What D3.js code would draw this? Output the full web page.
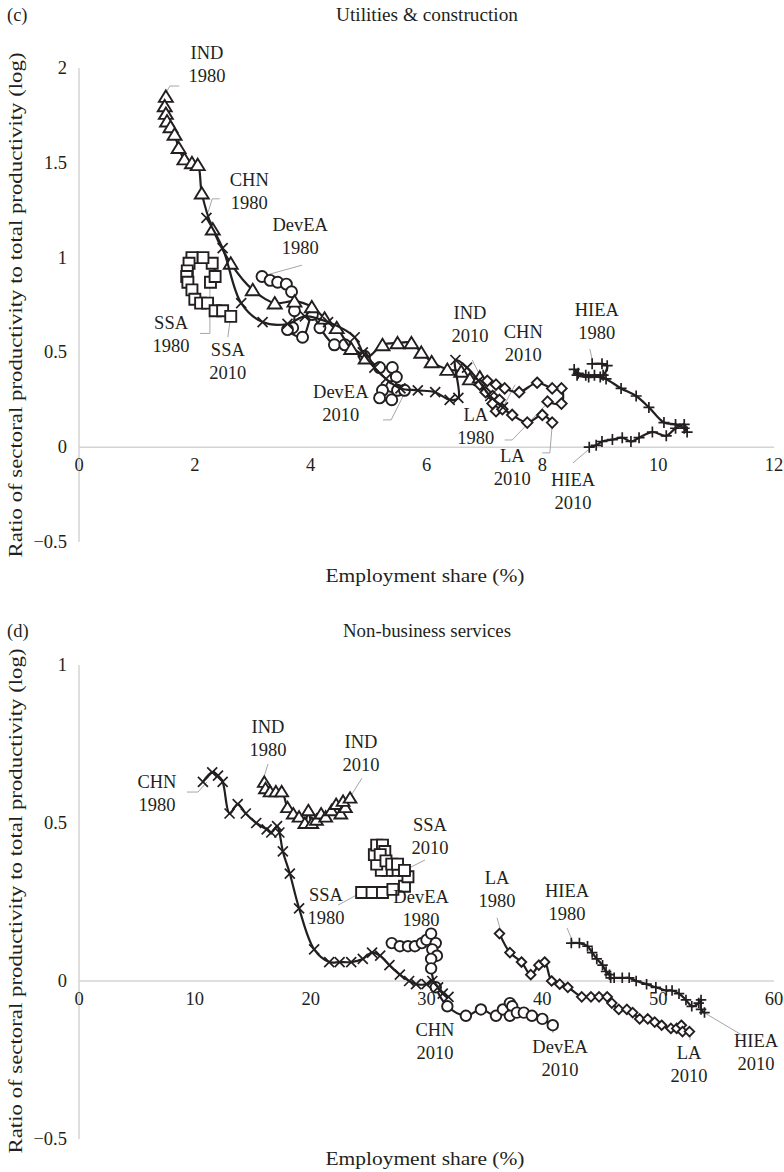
<!DOCTYPE html>
<html>
<head>
<meta charset="utf-8">
<script src="https://cdn.jsdelivr.net/npm/d3@7"></script>
<style>
  body { margin: 0; background: #fff; }
  svg text { font-family: "Liberation Serif", "DejaVu Serif", serif; fill: #231f20; }
</style>
</head>
<body>
<div id="chart"></div>
<script>
// ---- data: [employment share, log productivity ratio], 1980 -> 2010 ----
// (c) Utilities & construction
const ucIND = [[1.50,1.85],[1.48,1.80],[1.50,1.76],[1.52,1.72],[1.58,1.69],[1.65,1.65],[1.72,1.58],[1.82,1.52],[1.95,1.50],[2.05,1.49],[2.12,1.34],[2.31,1.15],[2.62,0.97],[3.00,0.83],[3.38,0.76],[3.72,0.77],[4.02,0.74],[4.24,0.68],[4.45,0.63],[4.70,0.52],[4.95,0.47],[5.24,0.54],[5.50,0.55],[5.74,0.55],[5.91,0.50],[6.09,0.45],[6.36,0.41],[6.60,0.40],[6.75,0.36],[6.92,0.37]];
const ucCHN = [[2.20,1.21],[2.48,1.05],[2.80,0.76],[3.17,0.66],[3.60,0.65],[3.90,0.69],[4.30,0.66],[4.76,0.58],[4.90,0.50],[5.10,0.42],[5.30,0.36],[5.55,0.31],[5.85,0.30],[6.15,0.29],[6.40,0.25],[6.55,0.26],[6.50,0.46],[6.70,0.42],[6.90,0.35],[7.10,0.27],[7.32,0.21]];
const ucDevEA = [[3.16,0.90],[3.30,0.88],[3.43,0.87],[3.58,0.86],[3.67,0.82],[3.72,0.72],[3.69,0.63],[3.60,0.62],[3.86,0.58],[4.03,0.70],[4.16,0.63],[4.41,0.54],[4.59,0.54],[4.93,0.48],[5.19,0.42],[5.41,0.42],[5.48,0.37],[5.40,0.32],[5.24,0.30],[5.19,0.26],[5.40,0.25],[5.50,0.30],[5.62,0.30]];
const ucSSA = [[2.27,0.87],[2.35,0.90],[2.30,0.97],[2.14,1.00],[1.95,1.00],[1.90,0.97],[1.87,0.93],[1.86,0.90],[1.88,0.87],[1.95,0.83],[2.00,0.78],[2.10,0.76],[2.22,0.76],[2.35,0.72],[2.48,0.72],[2.62,0.69]];
const ucLA = [[8.09,0.24],[8.33,0.23],[8.33,0.31],[8.17,0.31],[7.91,0.34],[7.60,0.29],[7.35,0.31],[7.20,0.33],[7.05,0.35],[6.92,0.33],[7.02,0.29],[7.14,0.27],[7.26,0.25],[7.14,0.23],[7.20,0.19],[7.31,0.20],[7.48,0.17],[7.74,0.13],[8.00,0.17],[8.17,0.13]];
const ucHIEA = [[8.86,0.44],[9.03,0.44],[9.12,0.43],[9.05,0.38],[8.90,0.38],[8.75,0.38],[8.62,0.39],[8.55,0.41],[8.60,0.38],[8.80,0.37],[9.00,0.37],[9.10,0.36],[9.36,0.31],[9.62,0.27],[9.84,0.21],[10.10,0.13],[10.30,0.12],[10.45,0.10],[10.50,0.08],[10.45,0.12],[10.30,0.10],[10.14,0.06],[9.90,0.08],[9.67,0.05],[9.53,0.03],[9.38,0.05],[9.21,0.04],[9.03,0.03],[8.93,0.01],[8.81,0.00]];

// (d) Non-business services
const nbCHN = [[10.7,0.63],[11.5,0.66],[12.0,0.65],[12.4,0.63],[13.0,0.53],[13.7,0.56],[14.4,0.53],[15.3,0.50],[16.2,0.48],[16.6,0.47],[17.1,0.49],[17.3,0.47],[17.6,0.41],[18.2,0.34],[19.0,0.23],[20.3,0.10],[21.6,0.06],[22.5,0.06],[23.5,0.06],[24.5,0.07],[25.3,0.09],[26.0,0.08],[26.8,0.05],[27.7,0.02],[28.5,0.00],[29.1,-0.01],[30.0,-0.01],[30.5,0.00],[31.0,-0.02],[31.4,-0.04],[31.9,-0.05]];
const nbIND = [[16.0,0.63],[16.1,0.61],[16.5,0.60],[17.0,0.60],[17.5,0.60],[18.0,0.55],[18.5,0.53],[19.0,0.52],[19.5,0.50],[19.8,0.54],[20.1,0.50],[20.5,0.51],[20.9,0.53],[21.3,0.52],[21.8,0.54],[22.2,0.56],[22.6,0.53],[23.0,0.55],[22.8,0.57],[23.4,0.58]];
const nbSSA = [[24.4,0.28],[25.3,0.28],[26.2,0.28],[27.1,0.29],[28.1,0.30],[28.4,0.33],[28.0,0.35],[27.3,0.35],[26.6,0.35],[26.1,0.35],[25.7,0.37],[25.5,0.40],[25.7,0.43],[26.2,0.43],[26.4,0.41],[26.0,0.40],[26.5,0.38],[27.0,0.37],[27.5,0.37],[28.1,0.35]];
const nbDevEA = [[27.0,0.12],[27.7,0.11],[28.4,0.11],[29.0,0.11],[29.6,0.12],[30.0,0.13],[30.4,0.15],[30.8,0.12],[30.5,0.10],[30.9,0.08],[30.4,0.07],[30.4,0.04],[30.8,-0.02],[31.8,-0.08],[33.4,-0.11],[34.7,-0.09],[36.0,-0.11],[36.6,-0.09],[37.2,-0.07],[37.4,-0.08],[37.2,-0.11],[37.8,-0.10],[38.4,-0.10],[39.1,-0.11],[40.0,-0.12],[40.9,-0.14]];
const nbLA = [[36.3,0.15],[37.2,0.09],[38.2,0.06],[39.0,0.02],[39.7,0.05],[40.2,0.06],[40.8,0.00],[41.5,-0.01],[42.2,-0.02],[43.4,-0.05],[44.2,-0.05],[44.9,-0.05],[45.6,-0.05],[46.0,-0.07],[46.6,-0.09],[47.3,-0.09],[47.8,-0.10],[48.4,-0.12],[49.1,-0.12],[49.7,-0.13],[50.3,-0.14],[51.1,-0.15],[51.6,-0.15],[52.0,-0.14],[52.1,-0.16],[52.7,-0.16]];
const nbHIEA = [[42.5,0.12],[43.2,0.12],[43.9,0.11],[44.3,0.09],[44.7,0.07],[45.2,0.05],[45.5,0.03],[45.8,0.02],[45.9,0.01],[46.2,0.01],[46.9,0.01],[47.5,0.01],[48.1,0.00],[49.0,-0.01],[49.8,-0.02],[50.7,-0.03],[51.2,-0.03],[51.8,-0.04],[52.4,-0.06],[52.9,-0.08],[53.5,-0.07],[53.7,-0.06],[53.7,-0.09],[54.0,-0.10]];

// tick values
const ucXTicks = [0, 2, 4, 6, 8, 10, 12];
const ucYTicks = [-0.5, 0, 0.5, 1, 1.5, 2];
const nbXTicks = [0, 10, 20, 30, 40, 50, 60];
const nbYTicks = [-0.5, 0, 0.5, 1];

// callout labels: text block centre and leader polyline, in data units
const ucNotes = [
  { t: ["IND", "1980"],   at: [2.21, 2.02],  lead: [[1.73,1.905],[1.57,1.905],[1.50,1.87]] },
  { t: ["CHN", "1980"],   at: [2.94, 1.35],  lead: [[2.43,1.31],[2.30,1.31],[2.23,1.24]] },
  { t: ["DevEA", "1980"], at: [3.82, 1.11],  lead: [[3.85,0.96],[3.26,0.91]] },
  { t: ["SSA", "1980"],   at: [1.59, 0.594], lead: [[2.09,0.60],[2.26,0.60],[2.26,0.855]] },
  { t: ["SSA", "2010"],   at: [2.57, 0.452], lead: [[2.57,0.58],[2.61,0.67]] },
  { t: ["DevEA", "2010"], at: [4.52, 0.23],  lead: [[5.25,0.144],[5.39,0.144],[5.63,0.29]] },
  { t: ["IND", "2010"],   at: [6.75, 0.645], lead: [[6.79,0.46],[6.92,0.38]] },
  { t: ["CHN", "2010"],   at: [7.67, 0.547], lead: [[7.53,0.33],[7.32,0.21]] },
  { t: ["LA", "1980"],    at: [6.85, 0.109], lead: [[7.35,0.038],[7.48,0.038],[8.05,0.22]] },
  { t: ["LA", "2010"],    at: [7.48, -0.107],lead: [[8.0,-0.03],[8.13,-0.03],[8.17,0.117]] },
  { t: ["HIEA", "1980"],  at: [8.94, 0.663], lead: [[8.82,0.518],[8.87,0.45]] },
  { t: ["HIEA", "2010"],  at: [8.53, -0.234],lead: [[8.53,-0.083],[8.79,-0.015]] }
];
const nbNotes = [
  { t: ["CHN", "1980"],   at: [6.73, 0.593], lead: [[9.32,0.598],[10.27,0.598],[11.05,0.63]] },
  { t: ["IND", "1980"],   at: [16.32, 0.767],lead: [[16.32,0.687],[15.89,0.636]] },
  { t: ["IND", "2010"],   at: [24.35, 0.72], lead: [[24.43,0.642],[23.4,0.582]] },
  { t: ["SSA", "2010"],   at: [30.3, 0.456], lead: [[29.87,0.383],[28.14,0.351]] },
  { t: ["SSA", "1980"],   at: [21.32, 0.236],lead: [[22.36,0.24],[24.26,0.278]] },
  { t: ["DevEA", "1980"], at: [29.53, 0.229],lead: [] },
  { t: ["LA", "1980"],    at: [36.09, 0.29], lead: [[36.09,0.2],[36.43,0.155]] },
  { t: ["HIEA", "1980"],  at: [42.13, 0.25], lead: [[42.13,0.168],[42.65,0.123]] },
  { t: ["CHN", "2010"],   at: [30.73, -0.191],lead: [[31.86,-0.098],[31.86,-0.06]] },
  { t: ["DevEA", "2010"], at: [41.53, -0.245],lead: [[40.92,-0.165],[40.92,-0.146]] },
  { t: ["LA", "2010"],    at: [52.66, -0.263],lead: [[52.75,-0.187],[52.75,-0.165]] },
  { t: ["HIEA", "2010"],  at: [58.45, -0.225],lead: [[57.5,-0.177],[53.87,-0.098]] }
];

const W = 784, H = 1172;
const ink = "#231f20";
const FS = 18.5;

// marker shapes, s = nominal size in px
const shapes = {
  tri:  s => `M0,${-s*0.5}L${s*0.58},${s*0.45}L${-s*0.58},${s*0.45}Z`,
  circ: s => `M${s/2},0A${s/2},${s/2} 0 1,1 ${-s/2},0A${s/2},${s/2} 0 1,1 ${s/2},0Z`,
  sq:   s => `M${-s/2},${-s/2}H${s/2}V${s/2}H${-s/2}Z`,
  dia:  s => `M0,${-s/2}L${s/2},0L0,${s/2}L${-s/2},0Z`,
  ex:   s => `M${-s/2},${-s/2}L${s/2},${s/2}M${s/2},${-s/2}L${-s/2},${s/2}`,
  plus: s => `M${-s/2},0H${s/2}M0,${-s/2}V${s/2}`
};

const panels = [
  {
    tag: "(c)", title: "Utilities & construction", titleY: 15, titleW: 182,
    xDomain: [0, 12], yDomain: [-0.5, 2], yRange: [542, 68],
    xTicks: ucXTicks, yTicks: ucYTicks, xLabelY: 576, yLabelMid: 305,
    series: [
      { d: ucSSA, m: "sq", s: 11 }, { d: ucDevEA, m: "circ", s: 11 },
      { d: ucIND, m: "tri", s: 12 }, { d: ucLA, m: "dia", s: 10.5 },
      { d: ucHIEA, m: "plus", s: 11 }, { d: ucCHN, m: "ex", s: 10 }
    ],
    notes: ucNotes
  },
  {
    tag: "(d)", title: "Non-business services", titleY: 631, titleW: 168,
    xDomain: [0, 60], yDomain: [-0.5, 1], yRange: [1139, 665],
    xTicks: nbXTicks, yTicks: nbYTicks, xLabelY: 1159, yLabelMid: 901,
    series: [
      { d: nbSSA, m: "sq", s: 11 }, { d: nbDevEA, m: "circ", s: 10.5 },
      { d: nbIND, m: "tri", s: 11 }, { d: nbLA, m: "dia", s: 9.5 },
      { d: nbHIEA, m: "plus", s: 10.5 }, { d: nbCHN, m: "ex", s: 10 }
    ],
    notes: nbNotes
  }
];

const svg = d3.select("#chart").append("svg")
  .attr("width", W).attr("height", H)
  .attr("viewBox", [0, 0, W, H]);

const fmt = v => v < 0 ? "\u2212" + Math.abs(v) : String(v);

panels.forEach(p => {
  const x = d3.scaleLinear().domain(p.xDomain).range([79, 774]);
  const y = d3.scaleLinear().domain(p.yDomain).range(p.yRange);
  const g = svg.append("g");

  // tag + title
  g.append("text").attr("x", 7).attr("y", p.titleY + 6)
    .style("font-size", FS + "px").text(p.tag);
  g.append("text").attr("x", 427).attr("y", p.titleY + 6)
    .attr("text-anchor", "middle").style("font-size", FS + "px")
    .attr("textLength", p.titleW).attr("lengthAdjust", "spacingAndGlyphs")
    .text(p.title);

  // axes: light grey lines, no ticks
  g.append("line")
    .attr("x1", x(0)).attr("x2", x(0))
    .attr("y1", y(p.yDomain[0])).attr("y2", y(p.yDomain[1]))
    .attr("stroke", "#d4d4d4").attr("stroke-width", 1.5);
  g.append("line")
    .attr("x1", x(p.xDomain[0])).attr("x2", x(p.xDomain[1]))
    .attr("y1", y(0)).attr("y2", y(0))
    .attr("stroke", "#d4d4d4").attr("stroke-width", 1.5);

  g.selectAll(".ytick").data(p.yTicks).join("text")
    .attr("x", 67).attr("y", d => y(d) + 6)
    .attr("text-anchor", "end").style("font-size", FS + "px")
    .text(fmt);
  g.selectAll(".xtick").data(p.xTicks).join("text")
    .attr("x", d => x(d)).attr("y", y(0) + 24)
    .attr("text-anchor", "middle").style("font-size", FS + "px")
    .text(fmt);

  // axis titles
  g.append("text").attr("x", 425).attr("y", p.xLabelY + 6)
    .attr("text-anchor", "middle").style("font-size", FS + "px")
    .attr("textLength", 199).attr("lengthAdjust", "spacingAndGlyphs")
    .text("Employment share (%)");
  g.append("text")
    .attr("transform", `translate(22,${p.yLabelMid}) rotate(-90)`)
    .attr("text-anchor", "middle").style("font-size", FS + "px")
    .attr("textLength", 505).attr("lengthAdjust", "spacingAndGlyphs")
    .text("Ratio of sectoral productivity to total productivity (log)");

  // leader lines
  const lead = d3.line().x(d => x(d[0])).y(d => y(d[1]));
  g.selectAll(".lead").data(p.notes.filter(n => n.lead.length)).join("path")
    .attr("d", n => lead(n.lead))
    .attr("fill", "none").attr("stroke", "#a6a6a6").attr("stroke-width", 1);

  // series lines + markers
  const line = d3.line().x(d => x(d[0])).y(d => y(d[1]))
    .curve(d3.curveCatmullRom.alpha(0.5));
  p.series.forEach(s => {
    const sg = g.append("g");
    sg.append("path").attr("d", line(s.d))
      .attr("fill", "none").attr("stroke", ink).attr("stroke-width", 2.2);
    const open = s.m !== "ex" && s.m !== "plus";
    sg.selectAll("path.mk").data(s.d).join("path")
      .attr("class", "mk")
      .attr("transform", d => `translate(${x(d[0])},${y(d[1])})`)
      .attr("d", shapes[s.m](s.s))
      .attr("fill", open ? "#fff" : "none")
      .attr("stroke", ink).attr("stroke-width", open ? 1.9 : 1.7);
  });

  // callout text
  p.notes.forEach(n => {
    const t = g.append("text")
      .attr("text-anchor", "middle").style("font-size", FS + "px");
    n.t.forEach((s, i) => {
      t.append("tspan")
        .attr("x", x(n.at[0]))
        .attr("y", y(n.at[1]) + (i === 0 ? -11.5 : 11.5) + 6)
        .text(s);
    });
  });
});
</script>
</body>
</html>
